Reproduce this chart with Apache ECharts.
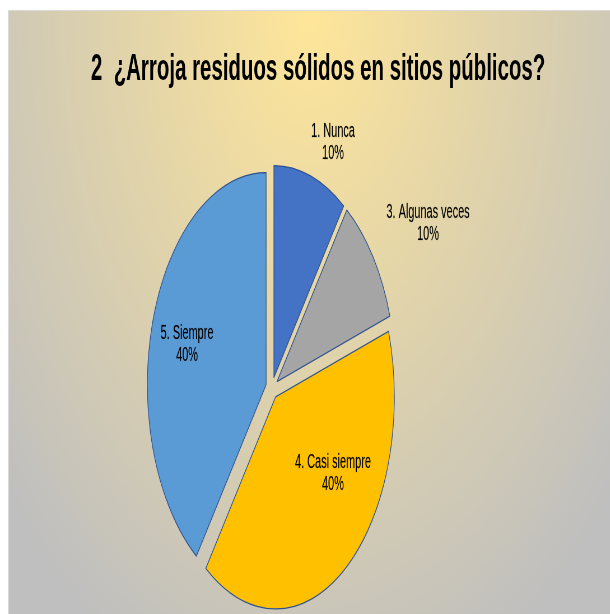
<!DOCTYPE html>
<html>
<head>
<meta charset="utf-8">
<script src="https://cdn.jsdelivr.net/npm/echarts@6/dist/echarts.min.js"></script>
<style>
  html, body { margin: 0; padding: 0; background: #ffffff; width: 610px; height: 614px; overflow: hidden; }
  #frame { position: absolute; left: 8px; top: 10px; width: 602px; height: 604px; overflow: hidden;
           border-top: 1px solid #d9d9d9; border-left: 1px solid #d9d9d9; box-sizing: border-box; }
  #chart { position: absolute; left: 0; top: 0; width: 1073px; height: 603px;
           transform: scaleX(0.56); transform-origin: 0 0; }
</style>
</head>
<body>
<div id="frame"><div id="chart"></div></div>
<script>
// ---- data ----
const titleText = '2  ¿Arroja residuos sólidos en sitios públicos?';
const categories = ['1. Nunca', '3. Algunas veces', '4. Casi siempre', '5. Siempre'];
const values = [10, 10, 40, 40];
const colors = ['#4472C4', '#A5A5A5', '#FFC000', '#5B9BD5'];

// label placement tuning (per category)
const labelLen = [34.6, 55.9, -116.6, -83.8];
const labelDist = [-15.6, -32, -33.6, -40.7];
const labelBoxW = [90, 170, 160, 120];

const chart = echarts.init(document.getElementById('chart'), null, { renderer: 'canvas' });

const data = categories.map((c, i) => ({
  name: c,
  value: values[i],
  selected: true,
  itemStyle: { color: colors[i] },
  label: {
    distanceToLabelLine: labelDist[i],
    rich: { t: { width: labelBoxW[i], align: 'center', fontSize: 19.5, lineHeight: 22,
                 fontFamily: 'Liberation Sans', color: '#000000', textBorderColor: 'rgba(0,0,0,0.35)', textBorderWidth: 0.4 } }
  },
  labelLine: { show: false, length: labelLen[i], length2: 0 }
}));

chart.setOption({
  animation: false,
  backgroundColor: new echarts.graphic.RadialGradient(0.5, 0, 1.2, [
    { offset: 0, color: '#FFE699' },
    { offset: 1, color: '#BFBFBF' }
  ]),
  title: {
    text: titleText,
    left: 547,
    textAlign: 'center',
    top: 35,
    textStyle: { fontFamily: 'Liberation Sans', fontWeight: 'bold', fontSize: 36.5, color: '#000000' }
  },
  series: [{
    type: 'pie',
    center: [469.6, 377],
    radius: 212,
    startAngle: 90,
    clockwise: true,
    selectedMode: 'multiple',
    selectedOffset: 11,
    avoidLabelOverlap: false,
    itemStyle: { borderColor: '#2F528F', borderWidth: 1.3 },
    emphasis: { disabled: true },
    label: {
      show: true,
      position: 'outside',
      formatter: p => '{t|' + p.name + '}\n{t|' + Math.round(p.percent) + '%}'
    },
    labelLine: { show: false },
    data: data
  }]
});
</script>
</body>
</html>
